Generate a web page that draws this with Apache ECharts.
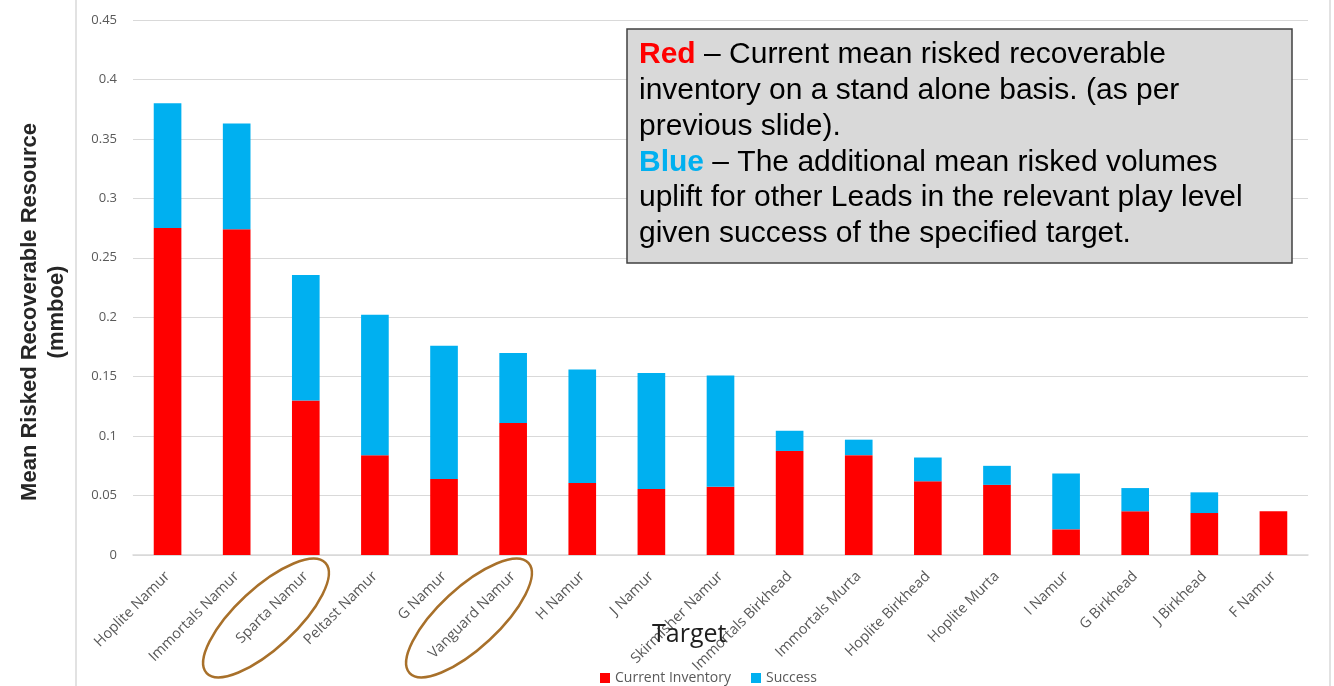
<!DOCTYPE html>
<html>
<head>
<meta charset="utf-8">
<script src="https://cdn.jsdelivr.net/npm/echarts@6/dist/echarts.min.js"></script>
<style>
  html, body { margin: 0; padding: 0; background: #fff; }
  #main { width: 1334px; height: 686px; }
</style>
</head>
<body>
<div id="main"></div>
<script>
const targets = [
  "Hoplite Namur", "Immortals Namur", "Sparta Namur", "Peltast Namur", "G Namur",
  "Vanguard Namur", "H Namur", "J Namur", "Skirmisher Namur", "Immortals Birkhead",
  "Immortals Murta", "Hoplite Birkhead", "Hoplite Murta", "I Namur", "G Birkhead",
  "J Birkhead", "F Namur"
];
const currentInventory = [
  0.275, 0.274, 0.130, 0.084, 0.064, 0.111, 0.0605, 0.0555, 0.0575, 0.0875,
  0.084, 0.062, 0.059, 0.0216, 0.0368, 0.0353, 0.0368
];
const success = [
  0.105, 0.089, 0.1055, 0.118, 0.112, 0.059, 0.0955, 0.0975, 0.0935, 0.017,
  0.013, 0.020, 0.016, 0.047, 0.0195, 0.0174, 0
];
const yTicks = [0, 0.05, 0.1, 0.15, 0.2, 0.25, 0.3, 0.35, 0.4, 0.45];

const chart = echarts.init(document.getElementById("main"));
const labelFont = "'Open Sans', 'Liberation Sans', sans-serif";
const arial = "'Liberation Sans', Arial, sans-serif";

let option = {
  animation: false,
  grid: { left: 133, right: 26, top: 20, bottom: 131, containLabel: false, outerBoundsMode: "none" },
  legend: {
    top: 666,
    left: 595,
    itemWidth: 10,
    itemHeight: 10,
    itemGap: 20,
    icon: "rect",
    textStyle: { color: "#595959", fontSize: 14, fontFamily: labelFont },
    data: ["Current Inventory", "Success"]
  },
  xAxis: {
    type: "category",
    data: targets,
    axisLine: { lineStyle: { color: "#d9d9d9", width: 1.5 } },
    axisTick: { show: false },
    axisLabel: {
      rotate: 45,
      interval: 0,
      color: "#595959",
      fontSize: 14.5,
      fontFamily: labelFont,
      margin: 19
    }
  },
  yAxis: {
    type: "value",
    min: 0,
    max: 0.45,
    interval: 0.05,
    axisLine: { show: false },
    axisTick: { show: false },
    splitLine: { lineStyle: { color: "#d9d9d9", width: 1.2 } },
    axisLabel: {
      color: "#595959",
      fontSize: 13,
      fontFamily: labelFont,
      margin: 16,
      formatter: v => {
        const t = yTicks.find(x => Math.abs(x - v) < 1e-9);
        return String(t !== undefined ? t : v);
      }
    }
  },
  series: [
    {
      name: "Current Inventory",
      type: "bar",
      stack: "total",
      barWidth: "40%",
      itemStyle: { color: "#ff0000" },
      data: currentInventory
    },
    {
      name: "Success",
      type: "bar",
      stack: "total",
      barWidth: "40%",
      itemStyle: { color: "#00b0f0" },
      data: success
    }
  ],
  graphic: [
    { type: "line", z: 1, shape: { x1: 76, y1: 0, x2: 76, y2: 686 }, style: { stroke: "#d9d9d9", lineWidth: 1.5 } },
    { type: "line", z: 1, shape: { x1: 1330, y1: 0, x2: 1330, y2: 686 }, style: { stroke: "#d9d9d9", lineWidth: 1.5 } },
    {
      type: "text",
      x: 43,
      y: 312,
      rotation: Math.PI / 2,
      z: 10,
      style: {
        text: "Mean Risked Recoverable Resource\n(mmboe)",
        fontSize: 22,
        fontWeight: "bold",
        lineHeight: 27,
        fill: "#262626",
        fontFamily: arial,
        align: "center",
        verticalAlign: "middle"
      }
    },
    {
      type: "text",
      left: 652,
      top: 622,
      z: 10,
      style: { text: "Target", fontSize: 25, fill: "#1f1f1f", fontFamily: labelFont }
    },
    {
      type: "ellipse",
      x: 266, y: 618, rotation: Math.PI / 4.2,
      shape: { cx: 0, cy: 0, rx: 81, ry: 30 },
      style: { fill: "none", stroke: "#a8702a", lineWidth: 2.5 },
      z: 100
    },
    {
      type: "ellipse",
      x: 469, y: 618, rotation: Math.PI / 4.2,
      shape: { cx: 0, cy: 0, rx: 81, ry: 30 },
      style: { fill: "none", stroke: "#a8702a", lineWidth: 2.5 },
      z: 100
    },
    {
      type: "rect",
      z: 100,
      shape: { x: 627, y: 29, width: 665, height: 234 },
      style: { fill: "#d9d9d9", stroke: "#404040", lineWidth: 1.5 }
    },
    {
      type: "text",
      z: 101,
      x: 639,
      y: 37,
      style: {
        text: "{r|Red} – Current mean risked recoverable\ninventory on a stand alone basis. (as per\nprevious slide).\n{b|Blue} – The additional mean risked volumes\nuplift for other Leads in the relevant play level\ngiven success of the specified target.",
        fontSize: 30,
        lineHeight: 35.8,
        fill: "#000",
        fontFamily: arial,
        rich: {
          r: { fill: "#ff0000", fontWeight: "bold", fontSize: 30, lineHeight: 35.8, fontFamily: arial },
          b: { fill: "#00b0f0", fontWeight: "bold", fontSize: 30, lineHeight: 35.8, fontFamily: arial }
        }
      }
    }
  ]
};
option && chart.setOption(option);
</script>
</body>
</html>
